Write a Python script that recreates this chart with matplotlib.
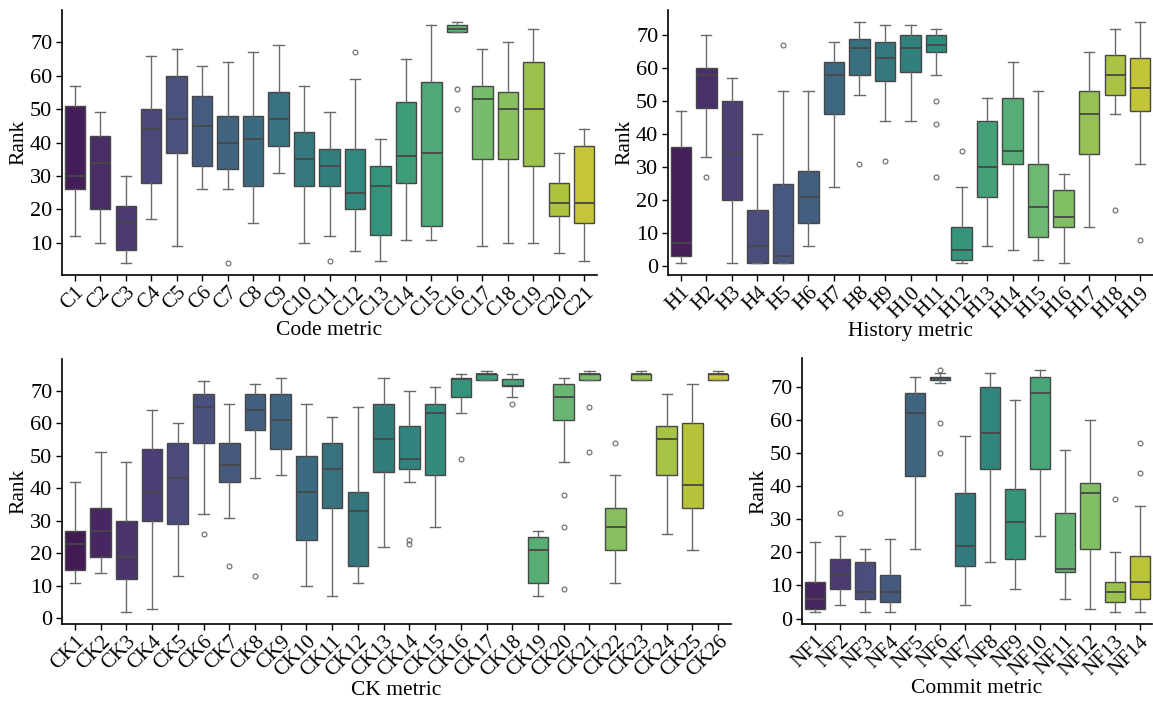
import colorsys
import matplotlib
matplotlib.use('Agg')
import matplotlib.pyplot as plt
from matplotlib import cm
from matplotlib.ticker import MultipleLocator

plt.rcParams['font.family'] = ['Liberation Serif', 'DejaVu Serif']
plt.rcParams['font.size'] = 15

# ---- Code metric ----
code_labels = ['C%d' % i for i in range(1, 22)]
code_lo = [12, 10, 4, 17, 9, 26, 26, 16, 31, 10, 12, 7.5, 4.5, 11, 11, 73, 9, 10, 10, 7, 4.5]
code_q1 = [26, 20, 8, 28, 37, 33, 32, 27, 39, 27, 27, 20, 12.5, 28, 15, 73, 35, 35, 33, 18, 16]
code_med = [30, 34, 16, 44, 47, 45, 40, 41, 47, 35, 33, 25, 27, 36, 37, 74, 53, 50, 50, 22, 22]
code_q3 = [51, 42, 21, 50, 60, 54, 48, 48, 55, 43, 38, 38, 33, 52, 58, 75, 57, 55, 64, 28, 39]
code_hi = [57, 49, 30, 66, 68, 63, 64, 67, 69, 57, 49, 59, 41, 65, 75, 76, 68, 70, 74, 37, 44]
code_fliers = {6: [4], 10: [4.5], 11: [67], 15: [56, 50]}

# ---- History metric ----
hist_labels = ['H%d' % i for i in range(1, 20)]
hist_lo = [1, 33, 1, 1, 1, 6, 24, 52, 44, 44, 58, 1, 6, 5, 2, 1, 12, 46, 31]
hist_q1 = [3, 48, 20, 1, 1, 13, 46, 58, 56, 59, 65, 2, 21, 31, 9, 12, 34, 52, 47]
hist_med = [7, 58, 34, 6, 3, 21, 58, 66, 63, 66, 67, 5, 30, 35, 18, 15, 46, 58, 54]
hist_q3 = [36, 60, 50, 17, 25, 29, 62, 69, 68, 70, 70, 12, 44, 51, 31, 23, 53, 64, 63]
hist_hi = [47, 70, 57, 40, 53, 53, 68, 74, 73, 73, 72, 24, 51, 62, 53, 28, 65, 72, 74]
hist_fliers = {1: [27], 4: [67], 7: [31], 8: [32], 10: [50, 43, 27], 11: [35], 17: [17], 18: [8]}

# ---- CK metric ----
ck_labels = ['CK%d' % i for i in range(1, 27)]
ck_lo = [11, 14, 2, 3, 13, 32, 31, 43, 44, 10, 7, 11, 22, 42, 28, 63, 73.3, 68,
         7, 48, 73.3, 11, 73.3, 26, 21, 73.3]
ck_q1 = [15, 19, 12, 30, 29, 54, 42, 58, 52, 24, 34, 16, 45, 46, 44, 68, 73.3, 71.3,
         11, 61, 73.3, 21, 73.3, 44, 34, 73.3]
ck_med = [23, 27, 19, 39, 43, 65, 47, 64, 61, 39, 46, 33, 55, 49, 63, 73.5, 75, 71.4,
          21, 68, 75, 28, 75, 55, 41, 75]
ck_q3 = [27, 34, 30, 52, 54, 69, 54, 69, 69, 50, 54, 39, 66, 59, 66, 74, 75.2, 73.5,
         25, 72, 75.2, 34, 75.2, 59, 60, 75.2]
ck_hi = [42, 51, 48, 64, 60, 73, 66, 72, 74, 66, 62, 65, 74, 70, 71, 75, 76, 75,
         27, 74, 76, 44, 76, 69, 72, 76]
ck_fliers = {5: [26], 6: [16], 7: [13], 13: [24, 23], 15: [49], 17: [66],
             19: [38, 28, 9], 20: [65, 51], 21: [54]}

# ---- Commit metric ----
nf_labels = ['NF%d' % i for i in range(1, 15)]
nf_lo = [2, 4, 2, 2, 21, 71, 4, 17, 9, 25, 6, 3, 2, 2]
nf_q1 = [3, 9, 6, 5, 43, 72, 16, 45, 18, 45, 14, 21, 5, 6]
nf_med = [6, 13, 8, 8, 62, 72.5, 22, 56, 29, 68, 15, 38, 8, 11]
nf_q3 = [11, 18, 17, 13, 68, 73, 38, 70, 39, 73, 32, 41, 11, 19]
nf_hi = [23, 25, 21, 24, 73, 74, 55, 74, 66, 75, 51, 60, 20, 34]
nf_fliers = {1: [32], 5: [75, 59, 50], 12: [36], 13: [53, 44]}


def box_colors(n, sat=0.7):
    # evenly spaced viridis colours, slightly desaturated
    cols = []
    for i in range(n):
        r, g, b, _ = cm.viridis((i + 1) / (n + 1))
        h, l, s = colorsys.rgb_to_hls(r, g, b)
        cols.append(colorsys.hls_to_rgb(h, l, s * sat))
    return cols


def draw_panel(ax, labels, lo, q1, med, q3, hi, fliers, xlabel):
    n = len(labels)
    stats = []
    for i in range(n):
        stats.append({'whislo': lo[i], 'q1': q1[i], 'med': med[i],
                      'q3': q3[i], 'whishi': hi[i], 'fliers': fliers.get(i, [])})
    line = '#474747'
    bp = ax.bxp(stats, positions=range(n), widths=0.8, patch_artist=True,
                boxprops=dict(edgecolor=line, linewidth=1.0),
                medianprops=dict(color=line, linewidth=1.3),
                whiskerprops=dict(color='#6a6a6a', linewidth=1.0),
                capprops=dict(color='#6a6a6a', linewidth=1.0),
                flierprops=dict(marker='o', markersize=3.5, markerfacecolor='none',
                                markeredgecolor='#666666', markeredgewidth=0.8),
                capwidths=0.4)
    for patch, c in zip(bp['boxes'], box_colors(n)):
        patch.set_facecolor(c)
    ax.set_xlim(-0.5, n - 0.5)
    ax.set_xticks(range(n))
    ax.set_xticklabels(labels, rotation=45, ha='right', rotation_mode='anchor')
    ax.yaxis.set_major_locator(MultipleLocator(10))
    ax.set_ylabel('Rank', fontsize=15.5, labelpad=1)
    ax.set_xlabel(xlabel, fontsize=15.5, labelpad=0)
    for side in ['top', 'right']:
        ax.spines[side].set_visible(False)
    for side in ['left', 'bottom']:
        ax.spines[side].set_linewidth(1.2)
    ax.tick_params(direction='out', length=4, width=1.0, labelsize=16, pad=3)
    ax.tick_params(axis='x', labelsize=15, pad=2)


W, H = 1153, 702
fig = plt.figure(figsize=(W / 100, H / 100), dpi=100)


def px_axes(left, right, top, bottom):
    return fig.add_axes([left / W, 1 - bottom / H, (right - left) / W, (bottom - top) / H])


ax1 = px_axes(62, 597, 10, 275)
ax2 = px_axes(668, 1153, 10, 275)
ax3 = px_axes(62, 731, 359, 624)
ax4 = px_axes(802, 1152, 358, 624)

draw_panel(ax1, code_labels, code_lo, code_q1, code_med, code_q3, code_hi, code_fliers, 'Code metric')
draw_panel(ax2, hist_labels, hist_lo, hist_q1, hist_med, hist_q3, hist_hi, hist_fliers, 'History metric')
draw_panel(ax3, ck_labels, ck_lo, ck_q1, ck_med, ck_q3, ck_hi, ck_fliers, 'CK metric')
draw_panel(ax4, nf_labels, nf_lo, nf_q1, nf_med, nf_q3, nf_hi, nf_fliers, 'Commit metric')

fig.savefig('out.png', dpi=100)
